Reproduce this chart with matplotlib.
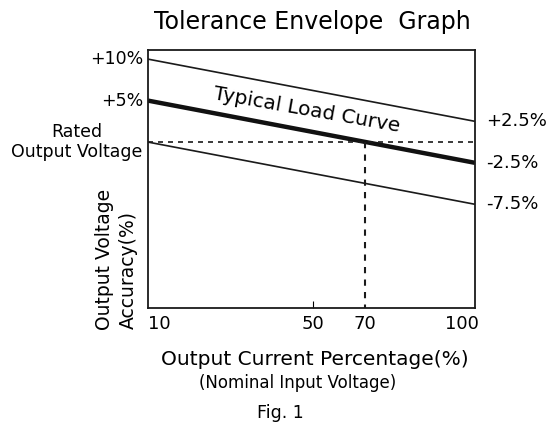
import numpy as np
import matplotlib
matplotlib.use("Agg")
import matplotlib.pyplot as plt

# Data
load_pct = [10, 100]                      # output current percentage
upper_env = [10.0, 2.5]                   # upper tolerance line (%)
typical = [5.0, -2.5]                     # typical load curve (%)
lower_env = [0.0, -7.5]                   # lower tolerance line (%)
rated_level = 0.0
rated_load = 70
x_ticks = [10, 50, 70, 100]
left_labels = ["+10%", "+5%"]
right_labels = ["+2.5%", "-2.5%", "-7.5%"]

# schematic (non-uniform) x scale as drawn in the reference
_src = np.array([10, 50, 70, 100], dtype=float)
_dst = np.array([0.0, 0.505, 0.664, 1.0])
def fwd(x):
    return np.interp(x, _src, _dst)
def inv(u):
    return np.interp(u, _dst, _src)

plt.rcParams['font.family'] = ['DejaVu Sans']
fig = plt.figure(figsize=(5.49, 4.23), dpi=100)
ax = fig.add_axes([148/549, 1-308/423, (475-148)/549, (308-50)/423])
ax.set_xscale('function', functions=(fwd, inv))
ax.set_xlim(10, 100)
ax.set_ylim(-20, 11.1)

ax.plot(load_pct, upper_env, color='#1a1a1a', lw=1.2, solid_capstyle='butt')
ax.plot(load_pct, typical, color='#111111', lw=3.2, solid_capstyle='butt')
ax.plot(load_pct, lower_env, color='#1a1a1a', lw=1.2, solid_capstyle='butt')
ax.plot([10, 100], [rated_level, rated_level], color='#1a1a1a', lw=1.2, ls=(0, (3, 3)))
ax.plot([rated_load, rated_load], [rated_level, -20], color='#1a1a1a', lw=1.5, ls=(0, (3, 3)))

for s in ax.spines.values():
    s.set_linewidth(1.3)
    s.set_color('#1a1a1a')

ax.set_xticks([50])
ax.set_xticklabels([])
ax.tick_params(axis='x', direction='in', length=5, width=0.8)
ax.set_yticks([])

# x tick labels
for v in x_ticks:
    ha = 'left' if v == 10 else ('right' if v == 100 else 'center')
    dx = 3 if v == 100 else 0
    ax.annotate(str(v), xy=(v, -20), xytext=(dx, -5), textcoords='offset points',
                ha=ha, va='top', fontsize=13)

# left labels
for v, lab in zip([upper_env[0], typical[0]], left_labels):
    ax.annotate(lab, xy=(10, v), xytext=(-3, 0), textcoords='offset points',
                ha='right', va='center', fontsize=12.5)
ax.annotate("Rated\nOutput Voltage", xy=(10, rated_level), xytext=(-4, 0),
            textcoords='offset points', ha='right', va='center', fontsize=12.5,
            multialignment='center', linespacing=1.1)
# right labels
for v, lab in zip([upper_env[1], typical[1], lower_env[1]], right_labels):
    ax.annotate(lab, xy=(100, v), xytext=(8, 0), textcoords='offset points',
                ha='left', va='center', fontsize=13)

ax.text(48.5, 3.9, "Typical Load Curve", rotation=-10, ha='center', va='center',
        fontsize=14.5, rotation_mode='anchor')

fig.text(105/549, 1-259/423, "Output Voltage", rotation=90,
         ha='center', va='center', fontsize=13.5)
fig.text(128/549, 1-270/423, "Accuracy(%)", rotation=90,
         ha='center', va='center', fontsize=13.5)

fig.text(312/549, 1-29/423, "Tolerance Envelope  Graph", ha='center', va='baseline', fontsize=17)
fig.text(315/549, 1-365/423, "Output Current Percentage(%)", ha='center', va='baseline', fontsize=14.5)
fig.text(298/549, 1-388/423, "(Nominal Input Voltage)", ha='center', va='baseline', fontsize=12)
fig.text(280/549, 1-418/423, "Fig. 1", ha='center', va='baseline', fontsize=12.5)

fig.savefig("out.png", dpi=100)
